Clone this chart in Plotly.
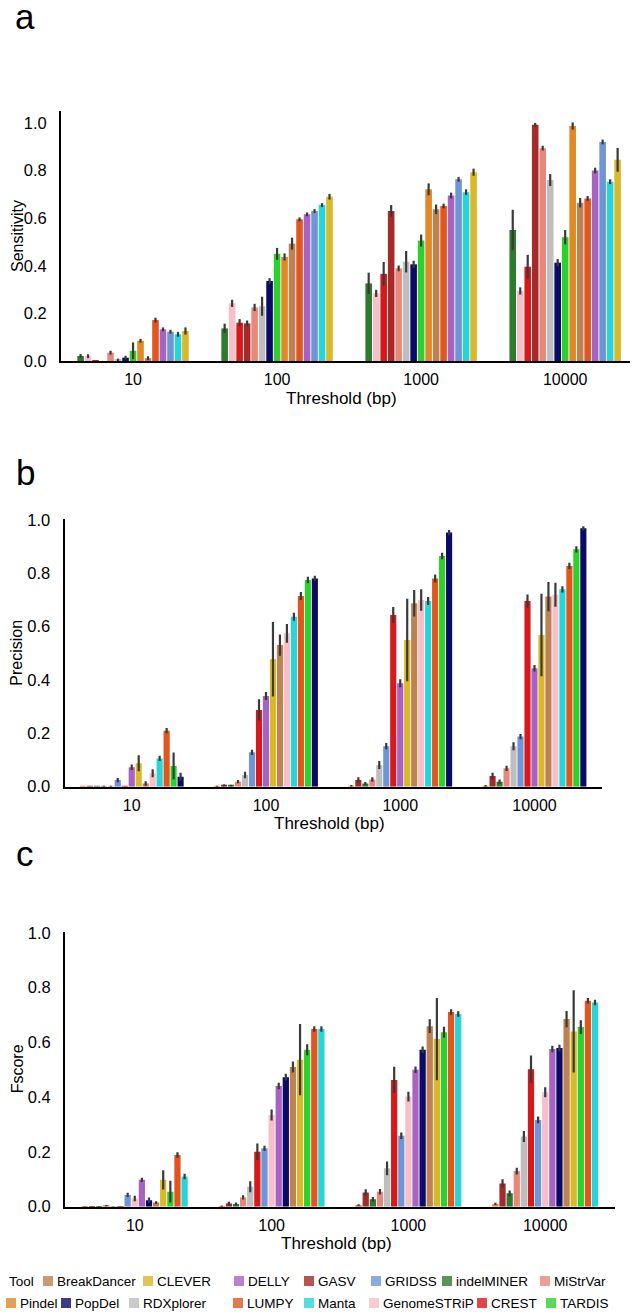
import plotly.graph_objects as go
from plotly.subplots import make_subplots

thresholds = ["10", "100", "1000", "10000"]

tool_colors = {
    "BreakDancer": "#bd8152",
    "CLEVER": "#d9b82a",
    "DELLY": "#a862c4",
    "GASV": "#a52a2a",
    "GRIDSS": "#6f95d6",
    "indelMINER": "#2e7a2e",
    "MiStrVar": "#e8877c",
    "Pindel": "#df8a25",
    "PopDel": "#0b0b66",
    "RDXplorer": "#bebebe",
    "LUMPY": "#e0561e",
    "Manta": "#27d5d8",
    "GenomeSTRiP": "#f5c0c8",
    "CREST": "#d7191c",
    "TARDIS": "#2dd12d",
}

# bar order inside each threshold group, per panel
order_sens = ["indelMINER", "GenomeSTRiP", "CREST", "GASV", "MiStrVar", "RDXplorer", "PopDel", "TARDIS",
              "Pindel", "BreakDancer", "LUMPY", "DELLY", "GRIDSS", "Manta", "CLEVER"]
order_prec = ["Pindel", "GASV", "indelMINER", "MiStrVar", "RDXplorer", "GRIDSS", "CREST", "DELLY",
              "CLEVER", "BreakDancer", "GenomeSTRiP", "Manta", "LUMPY", "TARDIS", "PopDel"]
order_fscore = ["Pindel", "GASV", "indelMINER", "MiStrVar", "RDXplorer", "CREST", "GRIDSS", "GenomeSTRiP",
                "DELLY", "PopDel", "BreakDancer", "CLEVER", "TARDIS", "LUMPY", "Manta"]

# values at thresholds 10, 100, 1000, 10000
sensitivity = {
    "indelMINER": [0.021, 0.137, 0.326, 0.55],
    "GenomeSTRiP": [0.02, 0.242, 0.284, 0.294],
    "CREST": [0.002, 0.161, 0.366, 0.396],
    "GASV": [0.0, 0.158, 0.63, 0.992],
    "MiStrVar": [0.035, 0.225, 0.389, 0.894],
    "RDXplorer": [0.005, 0.23, 0.417, 0.76],
    "PopDel": [0.014, 0.336, 0.406, 0.413],
    "TARDIS": [0.043, 0.45, 0.506, 0.52],
    "Pindel": [0.085, 0.437, 0.721, 0.987],
    "BreakDancer": [0.012, 0.493, 0.637, 0.665],
    "LUMPY": [0.172, 0.595, 0.651, 0.683],
    "DELLY": [0.133, 0.616, 0.695, 0.8],
    "GRIDSS": [0.123, 0.63, 0.763, 0.92],
    "Manta": [0.112, 0.655, 0.709, 0.753],
    "CLEVER": [0.126, 0.69, 0.793, 0.845],
}
sensitivity_err = {
    "indelMINER": [0.008, 0.02, 0.045, 0.085],
    "GenomeSTRiP": [0.008, 0.015, 0.015, 0.015],
    "CREST": [0.0, 0.015, 0.05, 0.05],
    "GASV": [0.0, 0.012, 0.025, 0.008],
    "MiStrVar": [0.008, 0.015, 0.012, 0.01],
    "RDXplorer": [0.005, 0.04, 0.045, 0.025],
    "PopDel": [0.008, 0.012, 0.015, 0.015],
    "TARDIS": [0.035, 0.025, 0.025, 0.03],
    "Pindel": [0.008, 0.015, 0.025, 0.015],
    "BreakDancer": [0.008, 0.025, 0.02, 0.02],
    "LUMPY": [0.01, 0.008, 0.01, 0.01],
    "DELLY": [0.008, 0.008, 0.012, 0.012],
    "GRIDSS": [0.008, 0.008, 0.01, 0.01],
    "Manta": [0.01, 0.008, 0.012, 0.01],
    "CLEVER": [0.015, 0.012, 0.015, 0.05],
}

precision = {
    "Pindel": [0.001, 0.002, 0.003, 0.003],
    "GASV": [0.001, 0.005, 0.025, 0.04],
    "indelMINER": [0.001, 0.004, 0.012, 0.019],
    "MiStrVar": [0.002, 0.019, 0.027, 0.069],
    "RDXplorer": [0.002, 0.044, 0.081, 0.152],
    "GRIDSS": [0.025, 0.129, 0.152, 0.188],
    "CREST": [0.001, 0.288, 0.644, 0.696],
    "DELLY": [0.073, 0.34, 0.388, 0.444],
    "CLEVER": [0.088, 0.478, 0.55, 0.569],
    "BreakDancer": [0.012, 0.531, 0.688, 0.713],
    "GenomeSTRiP": [0.05, 0.575, 0.70, 0.72],
    "Manta": [0.106, 0.637, 0.696, 0.74],
    "LUMPY": [0.21, 0.715, 0.781, 0.828],
    "TARDIS": [0.078, 0.775, 0.865, 0.89],
    "PopDel": [0.037, 0.781, 0.953, 0.969],
}
precision_err = {
    "Pindel": [0.0, 0.002, 0.003, 0.003],
    "GASV": [0.0, 0.004, 0.01, 0.012],
    "indelMINER": [0.0, 0.003, 0.006, 0.008],
    "MiStrVar": [0.002, 0.006, 0.008, 0.01],
    "RDXplorer": [0.002, 0.012, 0.015, 0.015],
    "GRIDSS": [0.008, 0.01, 0.012, 0.01],
    "CREST": [0.0, 0.04, 0.03, 0.025],
    "DELLY": [0.01, 0.015, 0.015, 0.012],
    "CLEVER": [0.03, 0.14, 0.155, 0.155],
    "BreakDancer": [0.008, 0.04, 0.05, 0.055],
    "GenomeSTRiP": [0.015, 0.035, 0.04, 0.045],
    "Manta": [0.01, 0.015, 0.015, 0.012],
    "LUMPY": [0.01, 0.015, 0.015, 0.012],
    "TARDIS": [0.05, 0.012, 0.012, 0.012],
    "PopDel": [0.015, 0.01, 0.01, 0.008],
}

fscore = {
    "Pindel": [0.001, 0.002, 0.006, 0.01],
    "GASV": [0.001, 0.012, 0.052, 0.085],
    "indelMINER": [0.002, 0.01, 0.027, 0.049],
    "MiStrVar": [0.004, 0.034, 0.055, 0.13],
    "RDXplorer": [0.002, 0.073, 0.14, 0.256],
    "CREST": [0.001, 0.201, 0.463, 0.502],
    "GRIDSS": [0.043, 0.213, 0.259, 0.317],
    "GenomeSTRiP": [0.03, 0.335, 0.402, 0.418],
    "DELLY": [0.098, 0.441, 0.5, 0.576],
    "PopDel": [0.024, 0.473, 0.573, 0.579],
    "BreakDancer": [0.015, 0.51, 0.659, 0.685],
    "CLEVER": [0.098, 0.537, 0.612, 0.64],
    "TARDIS": [0.055, 0.573, 0.637, 0.656],
    "LUMPY": [0.189, 0.649, 0.711, 0.752],
    "Manta": [0.11, 0.649, 0.704, 0.746],
}
fscore_err = {
    "Pindel": [0.001, 0.002, 0.003, 0.004],
    "GASV": [0.001, 0.006, 0.012, 0.015],
    "indelMINER": [0.001, 0.005, 0.008, 0.01],
    "MiStrVar": [0.002, 0.008, 0.01, 0.012],
    "RDXplorer": [0.001, 0.02, 0.025, 0.02],
    "CREST": [0.0, 0.03, 0.048, 0.05],
    "GRIDSS": [0.008, 0.01, 0.012, 0.012],
    "GenomeSTRiP": [0.01, 0.02, 0.018, 0.018],
    "DELLY": [0.008, 0.012, 0.012, 0.012],
    "PopDel": [0.01, 0.012, 0.012, 0.012],
    "BreakDancer": [0.005, 0.02, 0.025, 0.03],
    "CLEVER": [0.035, 0.13, 0.15, 0.15],
    "TARDIS": [0.04, 0.02, 0.02, 0.025],
    "LUMPY": [0.01, 0.01, 0.01, 0.01],
    "Manta": [0.01, 0.01, 0.01, 0.01],
}

legend_rows = [
    ["BreakDancer", "CLEVER", "DELLY", "GASV", "GRIDSS", "indelMINER", "MiStrVar"],
    ["Pindel", "PopDel", "RDXplorer", "LUMPY", "Manta", "GenomeSTRiP", "CREST", "TARDIS"],
]

# ---- layout (pixels) ----
W, H = 633, 1312
FONT = "Liberation Sans, Arial, Helvetica, sans-serif"
legend_x = [[43, 143, 234, 304, 371, 442, 540], [6, 61, 129, 233, 304, 369, 477, 546]]
legend_y = [1281, 1303]

panels = [
    # values, errors, order, y label, letter, x px domain, y px domain (bottom, top), x range, y range
    (sensitivity, sensitivity_err, order_sens, "Sensitivity", "a", (61, 630), (361, 111), [-0.5, 3.45], [0, 1.05]),
    (precision, precision_err, order_prec, "Precision", "b", (64.6, 601.6), (786.7, 518.7), [-0.5, 3.5], [0, 1.005]),
    (fscore, fscore_err, order_fscore, "Fscore", "c", (65, 615), (1206.7, 932), [-0.51, 3.51], [0, 1.003]),
]
letter_y = [16, 472, 853]

fig = make_subplots(rows=3, cols=1)


def px_x(p):
    return p / W


def px_y(p):
    return 1 - p / H


annotations = []
for row, (vals, errs, order, ylab, letter, xd, yd, xr, yr) in enumerate(panels, start=1):
    for tool in order:
        fig.add_trace(go.Bar(
            x=thresholds, y=vals[tool], name=tool,
            marker=dict(color=tool_colors[tool], line=dict(width=0)),
            error_y=dict(type="data", array=errs[tool], color="#3a3a3a", thickness=2.2, width=0),
            showlegend=False,
        ), row=row, col=1)

    xa = "xaxis" if row == 1 else f"xaxis{row}"
    ya = "yaxis" if row == 1 else f"yaxis{row}"
    fig.layout[xa].update(
        domain=[px_x(xd[0]), px_x(xd[1])], range=xr, type="category",
        showline=True, linecolor="black", linewidth=2, showgrid=False, zeroline=False,
        ticks="outside", ticklen=3, tickcolor="rgba(0,0,0,0)",
        tickfont=dict(size=16, color="black", family=FONT), automargin=False,
    )
    fig.layout[ya].update(
        domain=[px_y(yd[0]), px_y(yd[1])], range=yr,
        tickvals=[0, 0.2, 0.4, 0.6, 0.8, 1.0], tickformat=".1f",
        showline=True, linecolor="black", linewidth=2, showgrid=False, zeroline=False,
        ticks="outside", ticklen=9, tickcolor="rgba(0,0,0,0)",
        tickfont=dict(size=16.5, color="black", family=FONT), automargin=False,
    )

    # panel letter
    annotations.append(dict(x=px_x(25), y=px_y(letter_y[row - 1]),
                            text=letter, showarrow=False, xref="paper", yref="paper",
                            xanchor="center", yanchor="middle",
                            font=dict(size=35, color="black", family=FONT)))
    # y title
    annotations.append(dict(x=px_x(17), y=px_y((yd[0] + yd[1]) / 2), text=ylab, textangle=-90,
                            showarrow=False, xref="paper", yref="paper",
                            xanchor="center", yanchor="middle",
                            font=dict(size=16, color="black", family=FONT)))
    # x title
    annotations.append(dict(x=px_x((xd[0] + xd[1]) / 2 - 4), y=px_y(yd[0] + 37), text="Threshold (bp)",
                            showarrow=False, xref="paper", yref="paper",
                            xanchor="center", yanchor="middle",
                            font=dict(size=17, color="black", family=FONT)))

# legend drawn as swatches + labels to keep the two-row layout
shapes = []
annotations.append(dict(x=px_x(7), y=px_y(legend_y[0]), text="Tool", showarrow=False,
                        xref="paper", yref="paper", xanchor="left", yanchor="middle",
                        font=dict(size=13.5, color="black", family=FONT)))
for names, xs, yc in zip(legend_rows, legend_x, legend_y):
    for name, x0 in zip(names, xs):
        shapes.append(dict(type="rect", xref="paper", yref="paper",
                           x0=px_x(x0), x1=px_x(x0 + 10), y0=px_y(yc + 5), y1=px_y(yc - 5),
                           fillcolor=tool_colors[name], opacity=0.8, line=dict(width=0)))
        annotations.append(dict(x=px_x(x0 + 12), y=px_y(yc), text=name, showarrow=False,
                                xref="paper", yref="paper", xanchor="left", yanchor="middle",
                                font=dict(size=13.5, color="black", family=FONT)))

fig.update_layout(
    width=W, height=H,
    margin=dict(l=0, r=0, t=0, b=0),
    barmode="group", bargap=0.22, bargroupgap=0.12,
    plot_bgcolor="white", paper_bgcolor="white",
    font=dict(family=FONT, color="black"),
    annotations=annotations, shapes=shapes,
    showlegend=False,
)

fig.write_html("out.html", config={"displayModeBar": False},
               post_script="document.body.style.margin='0px';")
